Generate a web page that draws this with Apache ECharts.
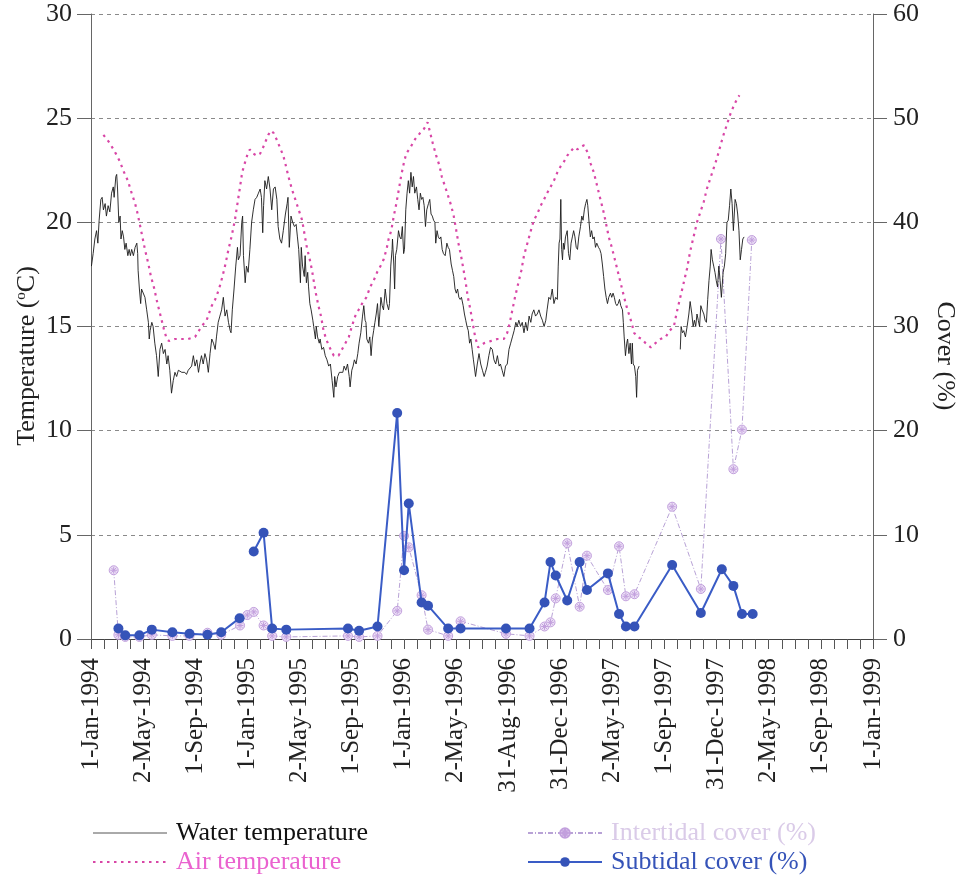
<!DOCTYPE html>
<html>
<head>
<meta charset="utf-8">
<script src="https://cdn.jsdelivr.net/npm/echarts@6/dist/echarts.min.js"></script>
<style>
  html, body { margin: 0; padding: 0; background: #ffffff; }
  #chart { width: 962px; height: 881px; }
</style>
</head>
<body>
<div id="chart"></div>
<script>
// ---- Axis labels -------------------------------------------------------
// Date axis runs 1-Jan-1994 .. 1-Jan-1999 in 15 equal steps (labels), 60 tick steps.
const xTickLabels = [
  '1-Jan-1994', '2-May-1994', '1-Sep-1994', '1-Jan-1995', '2-May-1995', '1-Sep-1995',
  '1-Jan-1996', '2-May-1996', '31-Aug-1996', '31-Dec-1996', '2-May-1997', '1-Sep-1997',
  '31-Dec-1997', '2-May-1998', '1-Sep-1998', '1-Jan-1999'
];
const AXIS_DAYS = 1826;          // days from 1-Jan-1994 to 1-Jan-1999
const TICKS_PER_LABEL = 4;

// ---- Water temperature (°C): [day since 1-Jan-1994, value]; null = logger gap
const waterTemperature = [
  [1,17.9],[5,18.5],[9,19.2],[13,19.6],[16,19.0],[19,20.1],[23,21.1],[26,21.2],[29,20.6],[33,20.9],
  [36,20.3],[40,20.8],[44,20.5],[48,21.4],[52,21.7],[54,21.2],[58,22.2],[60,22.3],[62,21.6],[65,20.0],
  [68,20.3],[70,19.2],[73,19.6],[76,19.3],[79,18.7],[82,19.0],[86,18.4],[89,18.7],[92,18.4],[95,18.7],
  [99,18.4],[103,18.8],[107,19.0],[109,18.5],[110,17.7],[113,16.8],[116,16.1],[118,16.8],[122,16.8],[126,16.4],
  [130,15.8],[134,15.2],[136,14.4],[138,14.8],[142,15.2],[145,15.0],[149,14.2],[153,13.6],[157,12.6],[161,13.9],
  [165,14.2],[169,13.7],[173,13.9],[177,13.2],[180,13.6],[184,12.9],[188,11.8],[192,12.4],[196,12.8],[200,12.6],
  [204,12.9],[212,12.8],[219,12.8],[223,12.7],[227,12.9],[235,13.1],[239,13.6],[243,13.1],[247,13.4],[251,12.8],
  [254,13.2],[258,13.6],[262,13.2],[266,13.7],[270,13.4],[274,12.8],[278,13.7],[282,14.4],[286,14.2],[290,13.9],
  [293,14.5],[297,15.2],[301,15.5],[305,15.8],[309,16.4],[313,15.5],[317,15.8],[321,15.2],[325,14.8],[327,14.7],
  [330,15.8],[334,16.8],[338,17.9],[342,18.8],[344,18.2],[348,18.4],[352,20.0],[354,20.3],[356,18.4],[360,17.1],
  [363,17.9],[367,17.6],[371,18.7],[375,20.0],[379,20.6],[383,21.1],[387,21.2],[391,21.4],[395,21.6],[398,21.2],
  [401,19.5],[403,20.8],[406,22.0],[410,21.6],[414,22.2],[418,21.6],[422,20.6],[426,21.6],[430,21.7],[434,21.1],
  [437,19.8],[441,19.2],[445,19.0],[449,19.6],[454,20.4],[458,20.9],[460,21.2],[463,18.8],[467,20.3],[471,20.0],
  [475,19.8],[479,19.9],[482,19.3],[485,18.7],[489,17.1],[491,18.8],[494,17.9],[498,17.4],[500,18.4],[503,17.1],
  [506,17.6],[508,16.9],[511,16.1],[514,15.8],[518,15.3],[520,15.0],[524,14.4],[526,15.0],[529,14.5],[533,14.2],
  [535,14.4],[539,13.9],[543,14.0],[547,13.6],[551,13.4],[555,13.1],[559,13.2],[563,12.4],[567,11.6],[569,12.6],
  [572,12.1],[576,12.6],[580,12.8],[584,12.8],[588,12.8],[591,13.1],[595,12.9],[599,13.2],[603,12.6],[605,12.1],
  [609,12.9],[612,13.1],[615,13.4],[619,13.2],[623,13.7],[626,14.2],[630,14.7],[634,15.5],[637,16.0],[640,15.3],
  [642,15.2],[644,14.4],[648,14.2],[651,14.5],[654,13.6],[657,14.4],[660,14.8],[663,15.2],[666,15.6],[669,16.1],
  [672,15.0],[674,15.5],[677,16.4],[680,16.0],[683,15.8],[687,16.8],[691,16.1],[695,15.8],[697,16.1],[700,17.9],
  [703,18.7],[704,19.2],[707,18.0],[709,16.8],[711,18.4],[714,18.7],[718,19.6],[721,19.3],[724,19.2],[727,19.8],
  [730,18.5],[732,18.7],[735,20.6],[738,21.4],[741,22.0],[744,21.4],[747,22.4],[750,21.7],[753,22.2],[756,21.4],
  [760,21.7],[763,21.1],[766,20.6],[769,21.4],[772,21.1],[775,21.2],[778,20.8],[781,19.8],[784,20.6],[788,20.9],
  [791,21.1],[794,20.4],[797,20.3],[800,20.1],[803,20.0],[805,19.0],[808,19.6],[811,19.3],[814,19.2],[817,19.3],
  [820,18.7],[823,18.5],[827,18.4],[831,19.0],[834,18.8],[837,18.7],[841,18.0],[844,17.7],[847,17.4],[850,16.8],
  [853,16.6],[856,16.8],[859,16.4],[862,16.3],[865,16.4],[869,16.0],[872,15.6],[875,15.3],[878,15.0],[881,14.8],
  [884,14.2],[887,14.4],[890,13.9],[893,13.4],[898,12.6],[902,13.2],[906,13.7],[910,13.2],[914,12.9],[918,12.6],
  [921,12.8],[925,13.1],[929,13.6],[933,14.0],[937,13.9],[941,13.4],[945,13.2],[949,13.6],[953,13.1],[956,13.2],
  [960,12.9],[964,12.6],[968,13.1],[972,13.2],[976,13.9],[980,14.2],[984,14.5],[988,14.8],[992,15.2],[995,15.0],
  [999,15.3],[1003,15.0],[1007,15.2],[1011,14.7],[1015,15.2],[1019,14.8],[1023,15.5],[1027,15.2],[1030,15.6],[1034,15.8],
  [1038,15.5],[1042,15.6],[1046,15.8],[1050,15.5],[1054,15.3],[1058,15.0],[1062,15.3],[1065,15.8],[1069,16.4],[1073,16.3],
  [1077,16.8],[1081,16.1],[1085,16.4],[1089,16.3],[1091,17.9],[1093,19.0],[1095,19.2],[1097,21.1],[1099,18.7],[1101,18.2],
  [1103,19.0],[1105,18.7],[1108,19.3],[1112,19.6],[1115,18.5],[1118,18.2],[1121,19.0],[1124,19.3],[1127,19.6],[1130,19.3],
  [1133,18.8],[1136,18.7],[1139,19.3],[1143,19.8],[1146,20.3],[1149,20.1],[1152,20.6],[1155,20.9],[1158,21.1],[1160,20.8],
  [1163,20.0],[1166,19.3],[1169,19.6],[1172,19.2],[1175,19.3],[1178,18.8],[1181,19.0],[1185,18.8],[1188,18.7],[1191,18.5],
  [1194,18.0],[1197,17.4],[1200,16.8],[1203,16.4],[1206,16.1],[1209,16.4],[1213,16.6],[1216,16.4],[1219,16.6],[1222,16.4],
  [1225,16.1],[1228,16.0],[1231,16.1],[1234,16.3],[1237,16.0],[1241,15.8],[1243,15.2],[1245,14.5],[1248,13.6],[1251,14.2],
  [1253,14.4],[1256,13.7],[1259,14.2],[1262,13.2],[1264,14.2],[1266,13.2],[1269,13.1],[1272,12.6],[1274,11.6],[1276,12.9],
  [1280,13.1],
  [1330,null],
  [1376,13.9],[1378,15.0],[1381,14.7],[1384,14.8],[1388,14.5],[1392,15.0],[1396,15.6],[1399,16.2],[1403,15.6],[1406,15.0],
  [1409,15.3],[1412,15.0],[1415,15.6],[1418,15.3],[1421,15.0],[1424,16.0],[1427,15.8],[1431,15.6],[1434,15.3],[1437,15.2],
  [1440,16.3],[1443,17.2],[1446,17.9],[1448,18.7],[1451,18.2],[1454,17.9],[1457,17.6],[1460,17.2],[1463,16.9],[1466,17.9],
  [1469,17.2],[1472,16.4],[1476,17.6],[1479,17.9],[1482,18.5],[1485,20.0],[1488,20.1],[1491,20.8],[1494,21.6],[1497,20.9],
  [1500,19.6],[1504,21.1],[1507,20.9],[1510,20.4],[1513,19.6],[1516,18.2],[1519,18.7],[1522,19.2],[1525,19.3]
];

// ---- Air temperature (°C): [day since 1-Jan-1994, value]
const airTemperature = [
  [29,24.2],[44,23.8],[58,23.3],[68,22.9],[75,22.5],[86,22.0],[95,21.4],[103,20.9],[109,20.4],[114,19.9],
  [120,19.3],[126,18.7],[134,18.0],[140,17.4],[148,16.8],[153,16.3],[159,15.8],[165,15.3],[171,14.8],[177,14.4],
  [182,14.3],[196,14.4],[212,14.4],[227,14.4],[243,14.5],[258,15.0],[270,15.3],[282,16.0],[290,16.3],[299,16.8],
  [307,17.4],[314,18.0],[321,18.7],[328,19.3],[336,20.1],[342,20.9],[348,21.7],[353,22.4],[360,22.9],[366,23.3],
  [371,23.5],[379,23.3],[387,23.2],[395,23.3],[402,23.6],[414,24.2],[420,24.4],[426,24.3],[433,24.0],[441,23.6],
  [449,23.2],[454,22.8],[461,22.2],[469,21.6],[477,21.1],[485,20.6],[493,20.1],[498,19.5],[504,18.8],[511,18.2],
  [516,17.7],[520,17.2],[525,16.6],[531,16.0],[537,15.5],[543,14.8],[549,14.4],[557,14.0],[567,13.6],[578,13.6],
  [586,13.9],[594,14.2],[602,14.5],[609,15.0],[617,15.5],[625,15.8],[633,16.1],[643,16.4],[652,16.9],[660,17.2],
  [668,17.6],[676,17.9],[683,18.2],[690,18.7],[695,19.2],[701,19.6],[707,20.3],[713,20.9],[719,21.6],[724,22.2],
  [730,22.8],[736,23.3],[746,23.6],[757,24.0],[769,24.3],[778,24.5],[786,24.8],[792,24.3],[798,23.8],[806,23.2],
  [814,22.7],[819,22.2],[827,21.7],[835,21.2],[841,20.8],[847,20.3],[853,19.6],[858,19.0],[864,18.4],[870,17.7],
  [875,17.1],[880,16.4],[886,15.8],[891,15.2],[897,14.5],[904,14.0],[918,14.2],[933,14.3],[949,14.4],[964,14.4],
  [972,14.7],[978,15.2],[984,15.8],[990,16.4],[998,17.1],[1005,17.7],[1011,18.4],[1019,19.0],[1027,19.6],[1034,20.1],
  [1042,20.4],[1050,20.8],[1058,21.1],[1065,21.4],[1073,21.7],[1081,22.0],[1089,22.4],[1097,22.7],[1104,22.9],[1112,23.2],
  [1120,23.4],[1128,23.6],[1136,23.5],[1143,23.6],[1151,23.7],[1161,23.3],[1167,22.8],[1174,22.4],[1180,21.9],[1186,21.4],
  [1192,20.9],[1198,20.4],[1204,19.8],[1209,19.3],[1216,18.8],[1221,18.4],[1227,17.9],[1233,17.4],[1239,16.9],[1245,16.4],
  [1250,16.0],[1256,15.6],[1262,15.2],[1268,14.7],[1276,14.5],[1286,14.4],[1295,14.2],[1307,14.0],[1318,14.2],[1330,14.4],
  [1342,14.5],[1351,14.8],[1361,15.0],[1368,15.7],[1376,16.4],[1384,17.1],[1392,17.8],[1399,18.6],[1407,19.3],[1415,20.0],
  [1423,20.5],[1431,21.0],[1438,21.6],[1446,22.1],[1454,22.6],[1462,23.1],[1470,23.7],[1477,24.2],[1485,24.7],[1493,25.2],
  [1501,25.6],[1508,25.9],[1514,26.1]
];

// ---- Intertidal cover (%) by survey date
const intertidalDates = [
  '1994-02-23','1994-03-06','1994-03-22','1994-04-24','1994-05-23','1994-07-10','1994-08-19','1994-09-30',
  '1994-11-01','1994-12-15','1995-01-01','1995-01-16','1995-02-08','1995-02-28','1995-04-02','1995-08-24',
  '1995-09-19','1995-11-01','1995-12-17','1996-01-02','1996-01-13','1996-02-12','1996-02-27','1996-04-14',
  '1996-05-13','1996-08-27','1996-10-21','1996-11-25','1996-12-09','1996-12-21','1997-01-17','1997-02-15',
  '1997-03-04','1997-04-22','1997-05-18','1997-06-03','1997-06-23','1997-09-19','1997-11-25','1998-01-11',
  '1998-02-09','1998-03-01','1998-03-24'
];
const intertidalCover = [
  6.6, 0.4, 0.2, 0.2, 0.4, 0.3, 0.3, 0.6,
  0.4, 1.3, 2.3, 2.6, 1.3, 0.3, 0.2, 0.3,
  0.2, 0.3, 2.7, 9.9, 8.8, 4.2, 0.9, 0.3,
  1.7, 0.5, 0.3, 1.2, 1.6, 3.9, 9.2, 3.1,
  8.0, 4.7, 8.9, 4.1, 4.3, 12.7, 4.8, 38.4,
  16.3, 20.1, 38.3
];

// ---- Subtidal cover (%) by survey date; null breaks the line
const subtidalDates = [
  '1994-03-06','1994-03-22','1994-04-24','1994-05-23','1994-07-10','1994-08-19','1994-09-30','1994-11-01',
  '1994-12-14','1994-12-31','1995-01-16','1995-02-08','1995-02-28','1995-04-02','1995-08-24','1995-09-19',
  '1995-11-01','1995-12-17','1996-01-02','1996-01-13','1996-02-12','1996-02-27','1996-04-14','1996-05-13',
  '1996-08-27','1996-10-21','1996-11-25','1996-12-09','1996-12-21','1997-01-17','1997-02-15','1997-03-04',
  '1997-04-22','1997-05-18','1997-06-03','1997-06-23','1997-09-19','1997-11-25','1998-01-13','1998-02-09',
  '1998-03-01','1998-03-26'
];
const subtidalCover = [
  1.0, 0.35, 0.35, 0.9, 0.65, 0.5, 0.4, 0.65,
  2.0, null, 8.4, 10.2, 1.0, 0.9, 1.0, 0.8,
  1.2, 21.7, 6.6, 13.0, 3.5, 3.2, 1.0, 1.0,
  1.0, 1.0, 3.5, 7.4, 6.1, 3.7, 7.4, 4.7,
  6.3, 2.4, 1.2, 1.2, 7.1, 2.5, 6.7, 5.1,
  2.4, 2.4
];

// ---- helpers ------------------------------------------------------------
const FONT = '"Liberation Serif", "Times New Roman", serif';
const DAY_MS = 86400000;
const T0 = Date.UTC(1994, 0, 1);
function dayOf(iso) {
  const p = iso.split('-').map(Number);
  return Math.round((Date.UTC(p[0], p[1] - 1, p[2]) - T0) / DAY_MS);
}
const nLabelSteps = xTickLabels.length - 1;
const labelDays = xTickLabels.map((_, k) => k * AXIS_DAYS / nLabelSteps);
const tickDays = Array.from({ length: nLabelSteps * TICKS_PER_LABEL + 1 },
  (_, k) => k * AXIS_DAYS / (nLabelSteps * TICKS_PER_LABEL));
const pairs = (dates, vals) => dates.map((d, i) => [dayOf(d), vals[i] == null ? '-' : vals[i]]);
const withGaps = arr => arr.map(p => [p[0], p[1] == null ? '-' : p[1]]);

const STAR = 'path://M0,5A5,5,0,1,0,10,5A5,5,0,1,0,0,5ZM5,1.2L5,8.8M1.2,5L8.8,5M2.3,2.3L7.7,7.7M2.3,7.7L7.7,2.3';

const WATER = '#1a1a1a', AIR = '#d846a6', INTER = '#b8a2d6', SUB = '#3553b8';

const legendBase = {
  orient: 'vertical', top: 820, padding: 0, itemGap: 3, itemWidth: 74, itemHeight: 12,
  textStyle: { fontFamily: FONT, fontSize: 26, lineHeight: 26, padding: [0, 0, 0, 4] }
};

const chart = echarts.init(document.getElementById('chart'), null, { renderer: 'canvas' });

chart.setOption({
  animation: false,
  backgroundColor: '#ffffff',
  grid: { left: 91, right: 89, top: 14, bottom: 242, containLabel: false },
  xAxis: {
    type: 'value',
    min: 0,
    max: AXIS_DAYS,
    axisLine: { show: true, onZero: false, lineStyle: { color: '#444', width: 1 } },
    axisTick: { show: true, inside: false, length: 10, customValues: tickDays,
                lineStyle: { color: '#555', width: 1 } },
    axisLabel: {
      customValues: labelDays,
      rotate: 90,
      margin: 19,
      fontFamily: FONT,
      fontSize: 25,
      color: '#222',
      formatter: v => xTickLabels[Math.round(v * nLabelSteps / AXIS_DAYS)]
    },
    splitLine: { show: false }
  },
  yAxis: [
    {
      type: 'value', min: 0, max: 30, interval: 5, position: 'left',
      axisLine: { show: true, lineStyle: { color: '#666', width: 1 } },
      axisTick: { show: true, inside: false, length: 14, lineStyle: { color: '#666' } },
      axisLabel: { margin: 19, fontFamily: FONT, fontSize: 26, color: '#222' },
      splitLine: { show: true, lineStyle: { color: '#8a8a8a', width: 1, type: [4, 4] } }
    },
    {
      type: 'value', min: 0, max: 60, interval: 10, position: 'right',
      axisLine: { show: true, lineStyle: { color: '#666', width: 1 } },
      axisTick: { show: true, inside: false, length: 14, lineStyle: { color: '#666' } },
      axisLabel: { margin: 20, fontFamily: FONT, fontSize: 26, color: '#222' },
      splitLine: { show: false }
    }
  ],
  legend: [
    Object.assign({}, legendBase, {
      left: 92,
      data: [
        { name: 'Water temperature', textStyle: { color: '#111' }, itemStyle: { opacity: 0 },
          lineStyle: { color: '#555', width: 1 } },
        { name: 'Air temperature', textStyle: { color: '#ea62cf' }, itemStyle: { opacity: 0 } }
      ]
    }),
    Object.assign({}, legendBase, {
      left: 527,
      data: [
        { name: 'Intertidal cover (%)', textStyle: { color: '#dacbe8' } },
        { name: 'Subtidal cover (%)', textStyle: { color: SUB } }
      ]
    })
  ],
  graphic: [
    {
      type: 'text', x: 27, y: 356, rotation: Math.PI / 2,
      style: {
        text: '{a|Temperature (}{s|o}{a|C)}',
        align: 'center', verticalAlign: 'middle',
        rich: {
          a: { fontFamily: FONT, fontSize: 26, fill: '#222' },
          s: { fontFamily: FONT, fontSize: 15, fill: '#222', verticalAlign: 'top' }
        }
      }
    },
    {
      type: 'text', x: 945, y: 356, rotation: -Math.PI / 2,
      style: {
        text: 'Cover (%)', fontFamily: FONT, fontSize: 26, fill: '#222',
        align: 'center', verticalAlign: 'middle'
      }
    }
  ],
  series: [
    {
      name: 'Intertidal cover (%)', type: 'line', yAxisIndex: 1, z: 2,
      data: pairs(intertidalDates, intertidalCover),
      symbol: STAR, symbolSize: 9,
      lineStyle: { color: INTER, width: 1, type: [5, 2, 1, 2] },
      itemStyle: { color: '#ecdff6', borderColor: '#c2a0dd', borderWidth: 1 }
    },
    {
      name: 'Subtidal cover (%)', type: 'line', yAxisIndex: 1, z: 3,
      data: pairs(subtidalDates, subtidalCover),
      connectNulls: false,
      symbol: 'circle', symbolSize: 10,
      lineStyle: { color: '#3a5cc6', width: 2 },
      itemStyle: { color: SUB }
    },
    {
      name: 'Air temperature', type: 'line', yAxisIndex: 0, z: 4,
      data: airTemperature,
      symbol: 'none',
      itemStyle: { color: AIR },
      lineStyle: { color: AIR, width: 2.2, type: [2.5, 4.5] }
    },
    {
      name: 'Water temperature', type: 'line', yAxisIndex: 0, z: 5,
      data: withGaps(waterTemperature),
      symbol: 'none', connectNulls: false,
      itemStyle: { color: WATER },
      lineStyle: { color: WATER, width: 0.9 }
    }
  ]
});
</script>
</body>
</html>
